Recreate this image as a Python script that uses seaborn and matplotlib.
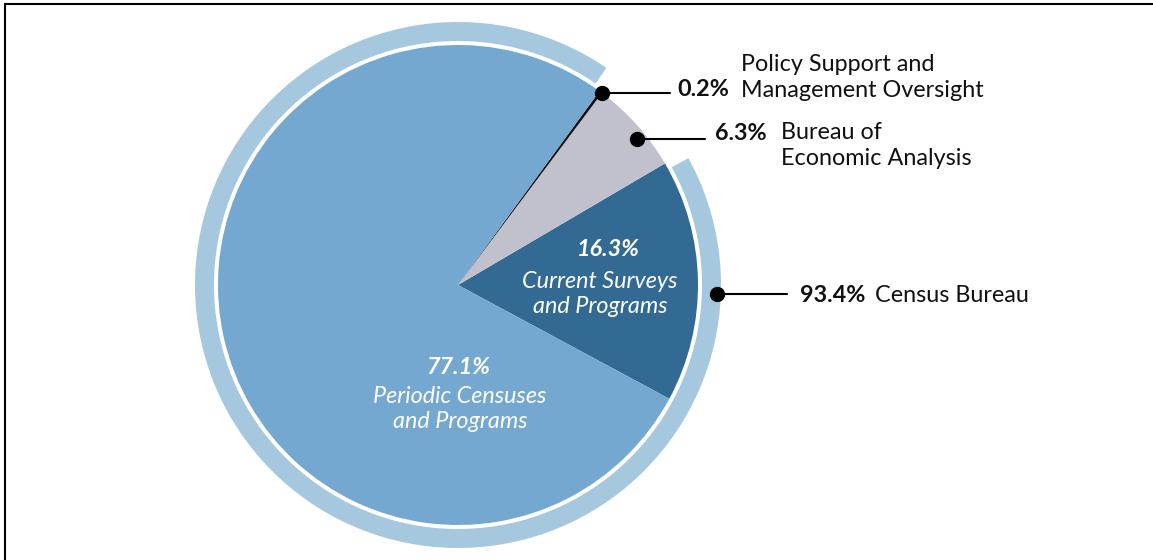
import numpy as np
import matplotlib
matplotlib.use("Agg")
import matplotlib.pyplot as plt
import seaborn as sns
from matplotlib.patches import Rectangle

# ---- data ----
slice_names = ["Current Surveys\nand Programs", "Bureau of\nEconomic Analysis",
               "Policy Support and\nManagement Oversight", "Periodic Censuses\nand Programs"]
slice_values = [16.3, 6.3, 0.2, 77.1]
slice_pct_labels = ["16.3%", "6.3%", "0.2%", "77.1%"]
ring_names = ["Other", "Census Bureau"]
ring_values = [6.5, 93.4]
ring_pct_label = "93.4%"

slice_colors = ["#336A93", "#C1C0CD", "#111111", "#75A8D0"]
ring_color = "#A6C8DF"

sns.set_theme(style="white")
plt.rcParams["font.family"] = ["Lato", "DejaVu Sans"]

W, H = 1153, 560
fig = plt.figure(figsize=(W / 100, H / 100), dpi=100)
ax = fig.add_axes([0, 0, 1, 1])

cx, cy = 458, H - 285
R = 240
start = -28.3
FS = 16.8
LS = 1.28

wedges, _ = ax.pie(slice_values, colors=slice_colors, startangle=start, counterclock=True,
                   center=(cx, cy), radius=R, wedgeprops=dict(linewidth=0))

# outer ring for Census Bureau
ring_start = wedges[1].theta1
rw, _ = ax.pie(ring_values, colors=["none", ring_color], startangle=ring_start, counterclock=True,
               center=(cx, cy), radius=263, wedgeprops=dict(width=19, linewidth=0))
rw[1].set_theta1(rw[1].theta1 + 1.8)
rw[1].set_theta2(rw[1].theta2 - 1.6)

ax.set_xlim(0, W)
ax.set_ylim(0, H)
ax.set_aspect("equal")
ax.axis("off")

def Y(v):
    return H - v

txt = "#111111"

# Policy dot at edge of policy wedge
a = np.deg2rad(wedges[2].theta1)
px, py = cx + R * np.cos(a), cy + R * np.sin(a)
ax.plot([px, 670], [py, py], color="black", lw=1.5)
ax.plot(px, py, "o", color="black", ms=10)
ax.text(729, Y(90), slice_pct_labels[2], ha="right", va="center", fontsize=FS, fontweight="bold", color=txt)
ax.text(741, Y(77.5), slice_names[2], ha="left", va="center", fontsize=FS, color=txt, linespacing=LS)

# BEA dot inside grey wedge
a = np.deg2rad(39.2)
bx, by = cx + 231 * np.cos(a), cy + 231 * np.sin(a)
ax.plot([bx, 705], [by, by], color="black", lw=1.5)
ax.plot(bx, by, "o", color="black", ms=10)
ax.text(767, Y(133), slice_pct_labels[1], ha="right", va="center", fontsize=FS, fontweight="bold", color=txt)
ax.text(781, Y(145.5), slice_names[1], ha="left", va="center", fontsize=FS, color=txt, linespacing=LS)

# Census dot on ring
a = np.deg2rad(-2.0)
qx, qy = cx + 259 * np.cos(a), cy + 259 * np.sin(a)
ax.plot([qx, 787], [qy, qy], color="black", lw=1.5)
ax.plot(qx, qy, "o", color="black", ms=10)
ax.text(865, Y(296), ring_pct_label, ha="right", va="center", fontsize=FS, fontweight="bold", color=txt)
ax.text(875, Y(296), ring_names[1], ha="left", va="center", fontsize=FS, color=txt)

# inner labels
ax.text(608, Y(250), slice_pct_labels[0], ha="center", va="center", fontsize=FS,
        fontweight="bold", fontstyle="italic", color="white")
ax.text(600, Y(294), slice_names[0], ha="center", va="center", fontsize=FS,
        fontstyle="italic", color="white", linespacing=LS)
ax.text(458, Y(367), slice_pct_labels[3], ha="center", va="center", fontsize=FS,
        fontweight="bold", fontstyle="italic", color="white")
ax.text(460, Y(409), slice_names[3], ha="center", va="center", fontsize=FS,
        fontstyle="italic", color="white", linespacing=LS)

fig.patches.append(Rectangle((5 / W, -0.1), 1.2, (H - 4) / H + 0.1, transform=fig.transFigure,
                             fill=False, edgecolor="black", lw=1.5))

fig.savefig("out.png", dpi=100)
